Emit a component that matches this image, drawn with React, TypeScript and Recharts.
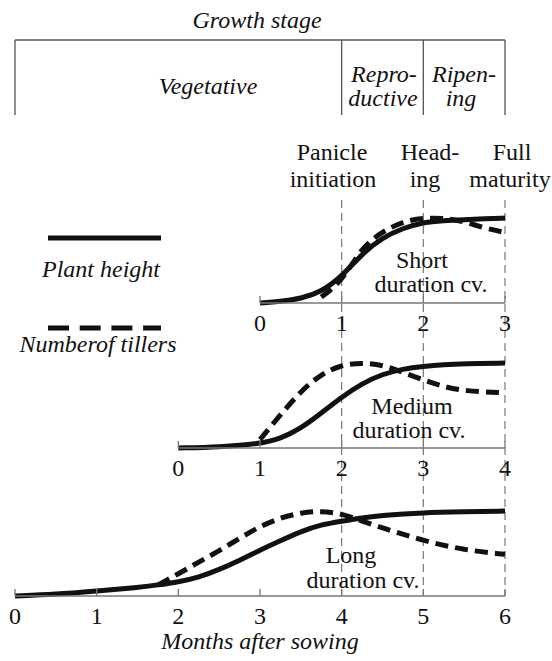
import { LineChart, Line, XAxis, YAxis, ReferenceLine } from "recharts";

const W = 552;
const H = 661;
const SERIF = "serif";
const INK = "#111";
const RULE = "#777";
const FS = 24;

// plot geometry
const AXIS_END = 505; // right end of every time axis
const LONG_LEFT = 15;
const MONTH_PX = (AXIS_END - LONG_LEFT) / 6;
const UNIT = 85; // px for relative value 1.0
const AXIS_H = 30;

// relative growth, 1 = final plant height
const shortMonths = [0, 0.25, 0.5, 0.75, 1, 1.25, 1.5, 1.75, 2, 2.25, 2.5, 2.75, 3];
const shortHeight = [0, 0.02, 0.05, 0.13, 0.31, 0.58, 0.77, 0.88, 0.95, 0.97, 0.98, 0.99, 1];
const shortTillers = [null, null, null, 0.07, 0.25, 0.66, 0.84, 0.96, 1, 1, 0.96, 0.88, 0.83];
const shortTicks = [0, 1, 2, 3];

const mediumMonths = [0, 0.5, 1, 1.25, 1.5, 1.75, 2, 2.25, 2.5, 2.75, 3, 3.25, 3.5, 4];
const mediumHeight = [0, 0.01, 0.05, 0.11, 0.23, 0.41, 0.6, 0.76, 0.87, 0.93, 0.96, 0.98, 0.99, 1];
const mediumTillers = [null, null, 0.1, 0.39, 0.67, 0.87, 0.98, 1, 0.98, 0.89, 0.8, 0.72, 0.67, 0.65];
const mediumTicks = [0, 1, 2, 3, 4];

const longMonths = [0, 0.5, 1, 1.5, 1.75, 2, 2.25, 2.5, 2.75, 3, 3.25, 3.5, 3.75, 4, 4.25, 4.5, 5, 5.5, 6];
const longHeight = [0, 0.02, 0.06, 0.1, 0.13, 0.165, 0.22, 0.31, 0.42, 0.54, 0.65, 0.76, 0.84, 0.88, 0.92, 0.95, 0.98, 0.99, 1];
const longTillers = [null, null, null, null, 0.13, 0.26, 0.4, 0.53, 0.68, 0.82, 0.92, 0.98, 1, 0.97, 0.88, 0.8, 0.65, 0.54, 0.49];
const longTicks = [0, 1, 2, 3, 4, 5, 6];

// stage boundaries and events, in months of the long duration cultivar
const stageBounds = [0, 4, 5, 6];
const eventMonths = [4, 5, 6];

const MonthTick = (props: any) => {
  const { x, y, payload } = props;
  return (
    <g>
      <line x1={x} y1={y} x2={x} y2={y - 7} stroke={RULE} strokeWidth={1.3} />
      <text x={x} y={y + 28} textAnchor="middle" fontFamily={SERIF} fontSize={FS} fill={INK}>
        {payload.value}
      </text>
    </g>
  );
};

interface PanelProps {
  months: number[];
  height: number[];
  tillers: (number | null)[];
  ticks: number[];
  plotTop: number;
  axisY: number;
  children?: any;
}

const Panel = ({ months, height, tillers, ticks, plotTop, axisY, children }: PanelProps) => {
  const data = months.map((m, i) => ({ m, height: height[i], tillers: tillers[i] }));
  const last = ticks[ticks.length - 1];
  const plotLeft = AXIS_END - last * MONTH_PX;
  return (
    <div style={{ position: "absolute", left: 0, top: 0 }}>
      <LineChart
        width={W}
        height={H}
        data={data}
        margin={{ top: plotTop, left: plotLeft, right: W - AXIS_END, bottom: H - axisY - AXIS_H }}
      >
        <XAxis
          dataKey="m"
          type="number"
          domain={[0, last]}
          ticks={ticks}
          height={AXIS_H}
          tickSize={0}
          tickMargin={0}
          tickLine={false}
          tick={<MonthTick />}
          axisLine={{ stroke: RULE, strokeWidth: 1.3 }}
        />
        <YAxis hide type="number" domain={[0, (axisY - plotTop) / UNIT]} />
        {children}
        <Line
          dataKey="height"
          type="basis"
          stroke={INK}
          strokeWidth={5}
          dot={false}
          activeDot={false}
          isAnimationActive={false}
        />
        <Line
          dataKey="tillers"
          type="basis"
          stroke={INK}
          strokeWidth={5}
          strokeDasharray="13 7"
          dot={false}
          activeDot={false}
          isAnimationActive={false}
        />
      </LineChart>
    </div>
  );
};

const LONG_AXIS = 596;
const HEADER_Y = 40;
const HEADER_BOTTOM = 115;
const EVENT_TOP = 200;
const yLong = (pageY: number) => (LONG_AXIS - pageY) / UNIT;

const T = (p: any) => (
  <text
    x={p.x}
    y={p.y}
    textAnchor="middle"
    fontFamily={SERIF}
    fontSize={p.size || FS}
    fontStyle={p.italic ? "italic" : "normal"}
    fill={INK}
  >
    {p.children}
  </text>
);

const App = () => {
  return (
    <div style={{ position: "absolute", left: 0, top: 0, width: W, height: H, background: "#fff" }}>
      <style>{"*, svg text { font-family: 'Liberation Serif', serif !important; }"}</style>
      <Panel
        months={longMonths}
        height={longHeight}
        tillers={longTillers}
        ticks={longTicks}
        plotTop={HEADER_Y}
        axisY={LONG_AXIS}
      >
        <ReferenceLine
          segment={[{ x: 0, y: yLong(HEADER_Y) }, { x: 6, y: yLong(HEADER_Y) }]}
          stroke="#555"
          strokeWidth={1.3}
        />
        {stageBounds.map((m) => (
          <ReferenceLine
            key={"s" + m}
            segment={[{ x: m, y: yLong(HEADER_Y) }, { x: m, y: yLong(HEADER_BOTTOM) }]}
            stroke="#555"
            strokeWidth={1.3}
          />
        ))}
        {eventMonths.map((m) => (
          <ReferenceLine
            key={"e" + m}
            segment={[{ x: m, y: yLong(EVENT_TOP) }, { x: m, y: 0 }]}
            stroke={RULE}
            strokeWidth={1.2}
            strokeDasharray="8 5"
          />
        ))}
      </Panel>
      <Panel
        months={mediumMonths}
        height={mediumHeight}
        tillers={mediumTillers}
        ticks={mediumTicks}
        plotTop={340}
        axisY={448}
      />
      <Panel
        months={shortMonths}
        height={shortHeight}
        tillers={shortTillers}
        ticks={shortTicks}
        plotTop={200}
        axisY={303}
      />
      <svg width={W} height={H} style={{ position: "absolute", left: 0, top: 0, pointerEvents: "none" }}>
        <T x={257} y={28} italic>Growth stage</T>
        <T x={208} y={94} italic>Vegetative</T>
        <T x={384} y={82} italic>Repro-</T>
        <T x={383} y={106} italic>ductive</T>
        <T x={464} y={82} italic>Ripen-</T>
        <T x={461} y={106} italic>ing</T>

        <T x={332} y={160}>Panicle</T>
        <T x={333} y={187}>initiation</T>
        <T x={430} y={160}>Head-</T>
        <T x={425} y={187}>ing</T>
        <T x={512} y={160}>Full</T>
        <T x={510} y={187}>maturity</T>

        <line x1={48} y1={238} x2={161} y2={238} stroke={INK} strokeWidth={5} />
        <T x={101} y={277} italic>Plant height</T>
        <line x1={48} y1={328} x2={161} y2={328} stroke={INK} strokeWidth={5} strokeDasharray="21 10.7" />
        <T x={98} y={352} italic>Numberof tillers</T>

        <T x={422} y={268}>Short</T>
        <T x={431} y={292}>duration cv.</T>
        <T x={412} y={414}>Medium</T>
        <T x={409} y={438}>duration cv.</T>
        <T x={351} y={563}>Long</T>
        <T x={363} y={588}>duration cv.</T>

        <T x={260} y={649} italic>Months after sowing</T>
      </svg>
    </div>
  );
};

export default App;
